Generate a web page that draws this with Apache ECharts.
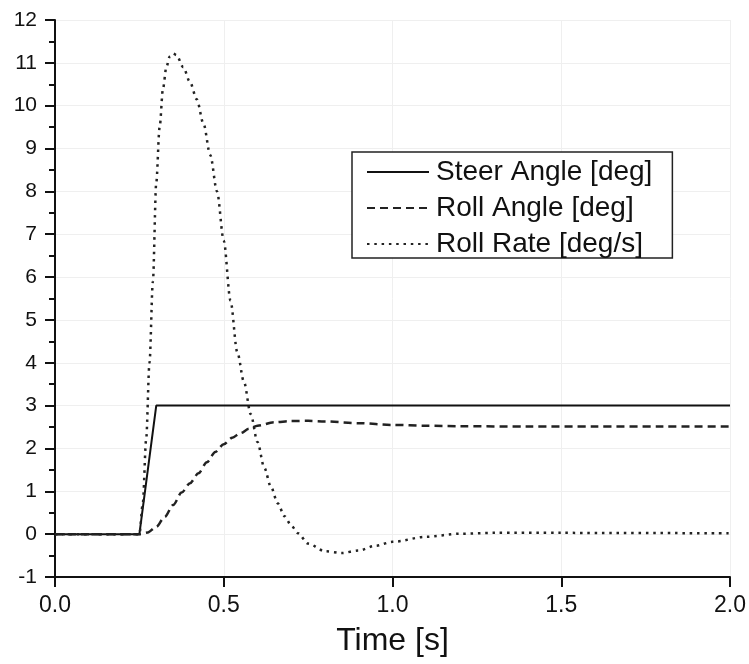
<!DOCTYPE html>
<html>
<head>
<meta charset="utf-8">
<script src="https://cdn.jsdelivr.net/npm/echarts@6/dist/echarts.min.js"></script>
<style>
  html, body { margin: 0; padding: 0; background: #fff; }
  #chart { width: 749px; height: 664px; }
</style>
</head>
<body>
<div id="chart"></div>
<script>
// Steer input: step ramp between 0.25 s and 0.30 s
const steerTime = [0, 0.25, 0.30, 2.0];
const steerAngle = [0, 0, 3, 3];

// Roll angle response [deg]
const rollAngleTime = [0, 0.25, 0.275, 0.30, 0.325, 0.35, 0.375, 0.40, 0.425, 0.45, 0.475, 0.50,
  0.525, 0.55, 0.575, 0.60, 0.65, 0.70, 0.75, 0.80, 0.90, 1.00, 1.10, 1.20, 1.40, 1.60, 1.80, 2.00];
const rollAngle = [0, 0, 0.04, 0.17, 0.40, 0.68, 0.97, 1.19, 1.42, 1.68, 1.92, 2.10,
  2.25, 2.36, 2.46, 2.53, 2.61, 2.64, 2.645, 2.63, 2.59, 2.55, 2.53, 2.52, 2.51, 2.51, 2.51, 2.51];

// Roll rate response [deg/s]
const rollRateTime = [0, 0.25, 0.26, 0.27, 0.28, 0.29, 0.30, 0.31, 0.32, 0.33, 0.34, 0.35, 0.36,
  0.38, 0.40, 0.42, 0.44, 0.46, 0.48, 0.50, 0.52, 0.54, 0.56, 0.58, 0.60, 0.62, 0.64, 0.66,
  0.68, 0.70, 0.72, 0.75, 0.80, 0.85, 0.90, 0.95, 1.00, 1.10, 1.20, 1.30, 1.50, 2.00];
const rollRate = [0, 0, 0.7, 2.2, 4.0, 5.9, 8.2, 9.5, 10.4, 10.9, 11.15, 11.22, 11.18,
  10.9, 10.55, 10.15, 9.58, 8.85, 8.0, 6.85, 5.45, 4.25, 3.55, 2.8, 2.15, 1.55, 1.1, 0.72,
  0.42, 0.2, 0.02, -0.22, -0.40, -0.44, -0.38, -0.27, -0.18, -0.06, 0.01, 0.03, 0.03, 0.02];

// Axis ticks
const xTicks = { min: 0, max: 2, interval: 0.5 };
const yTicks = { min: -1, max: 12, interval: 1 };

const seriesNames = ['Steer Angle [deg]', 'Roll Angle [deg]', 'Roll Rate [deg/s]'];

function pairs(t, v) { return t.map((x, i) => [x, v[i]]); }

const FONT = '"Liberation Sans", Arial, sans-serif';
const chart = echarts.init(document.getElementById('chart'), null, { renderer: 'canvas' });

chart.setOption({
  backgroundColor: '#ffffff',
  animation: false,
  grid: { left: 55, right: 17, top: 20, bottom: 87, containLabel: false },
  legend: {
    orient: 'vertical',
    left: 352,
    top: 152,
    padding: [6, 20, 0, 14],
    itemGap: 8,
    itemWidth: 62,
    itemHeight: 14,
    borderColor: '#222',
    borderWidth: 1.5,
    backgroundColor: '#fff',
    itemStyle: { opacity: 0 },
    textStyle: { fontFamily: FONT, fontSize: 28, color: '#111', lineHeight: 28, padding: [0, 0, 0, 2] },
    data: seriesNames
  },
  xAxis: {
    type: 'value',
    min: xTicks.min, max: xTicks.max, interval: xTicks.interval,
    name: 'Time [s]',
    nameLocation: 'middle',
    nameGap: 48,
    nameTextStyle: { fontFamily: FONT, fontSize: 32, color: '#111' },
    axisLine: { onZero: false, lineStyle: { color: '#111', width: 2 } },
    axisTick: { show: true, length: 10, lineStyle: { color: '#111', width: 2 } },
    axisLabel: {
      fontFamily: FONT, fontSize: 23, color: '#111', margin: 17,
      formatter: v => v.toFixed(1)
    },
    splitLine: { show: true, lineStyle: { color: '#efefef', width: 1 } }
  },
  yAxis: {
    type: 'value',
    min: yTicks.min, max: yTicks.max, interval: yTicks.interval,
    axisLine: { show: true, onZero: false, lineStyle: { color: '#111', width: 2 } },
    axisTick: { show: true, length: 10, lineStyle: { color: '#111', width: 2 } },
    minorTick: { show: true, splitNumber: 2, length: 6, lineStyle: { color: '#111', width: 2 } },
    axisLabel: { fontFamily: FONT, fontSize: 21, color: '#111', margin: 18 },
    splitLine: { show: true, lineStyle: { color: '#efefef', width: 1 } }
  },
  series: [
    {
      name: seriesNames[0],
      type: 'line',
      data: pairs(steerTime, steerAngle),
      symbol: 'none',
      lineStyle: { color: '#111', width: 2, type: 'solid' },
      itemStyle: { color: '#111' },
      z: 3
    },
    {
      name: seriesNames[1],
      type: 'line',
      data: pairs(rollAngleTime, rollAngle),
      symbol: 'none',
      smooth: 0.3,
      smoothMonotone: 'x',
      lineStyle: { color: '#222', width: 2.5, type: [8, 5] },
      itemStyle: { color: '#222' },
      z: 3
    },
    {
      name: seriesNames[2],
      type: 'line',
      data: pairs(rollRateTime, rollRate),
      symbol: 'none',
      smooth: 0.3,
      smoothMonotone: 'x',
      lineStyle: { color: '#222', width: 2.5, type: [2.5, 4.8] },
      itemStyle: { color: '#222' },
      z: 3
    }
  ]
});
</script>
</body>
</html>
